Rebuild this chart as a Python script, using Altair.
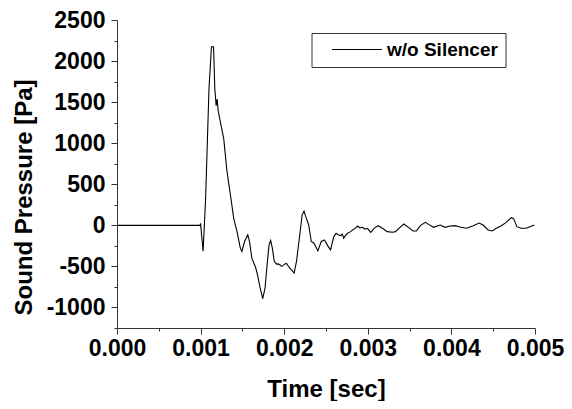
import altair as alt
import pandas as pd

# Time [sec]
time_s = [0.0, 0.00099, 0.001, 0.00103, 0.00106, 0.00110, 0.00113, 0.001155, 0.00117,
          0.001186, 0.001198, 0.00121, 0.001277, 0.001316, 0.001368, 0.001396, 0.001435,
          0.001475, 0.001494, 0.001526, 0.001565, 0.001585, 0.001613, 0.00166, 0.00168,
          0.001712, 0.001743, 0.001771, 0.001799, 0.001819, 0.001838, 0.001858, 0.001882,
          0.001909, 0.001929, 0.001949, 0.001968, 0.001988, 0.002008, 0.002028, 0.002048,
          0.002068, 0.002119, 0.002147, 0.002186, 0.002214, 0.002237, 0.002265, 0.002293,
          0.002324, 0.002356, 0.002403, 0.002443, 0.002482, 0.002522, 0.002554, 0.002593,
          0.002621, 0.002645, 0.00268, 0.002695, 0.002712, 0.002735, 0.002759, 0.00279,
          0.002818, 0.002845, 0.002877, 0.002905, 0.002937, 0.002965, 0.002996, 0.003035,
          0.003075, 0.003123, 0.003174, 0.003233, 0.003293, 0.003332, 0.003372, 0.003431,
          0.00349, 0.003541, 0.003581, 0.003628, 0.003688, 0.003727, 0.003787, 0.003865,
          0.003925, 0.003984, 0.004043, 0.004102, 0.004182, 0.004261, 0.004332, 0.004379,
          0.004439, 0.004487, 0.004538, 0.004597, 0.004656, 0.004715, 0.004743, 0.004783,
          0.004834, 0.004893, 0.004941, 0.004992]
# Sound Pressure [Pa]
pressure_pa = [0, 0, 15, -315, 327, 1658, 2174, 2174, 1658,
               1456, 1537, 1395, 1053, 653, 290, 85, -73,
               -278, -318, -197, -117, -197, -399, -520, -601,
               -762, -891, -762, -440, -238, -185, -278, -440,
               -472, -470, -480, -500, -488, -470, -464, -495,
               -520, -581, -440, -117, 125, 173, 85, 4,
               -197, -218, -311, -197, -178, -250, -298, -137,
               -97, -115, -125, -105, -157, -120, -97, -80,
               -56, -40, -8, -30, -24, -45, -36, -85,
               -36, -4, -36, -77, -85, -77, -36, 16,
               -28, -69, -69, -4, 36, 12, -24, 4,
               -24, -8, -4, -20, -36, -4, 28, 4,
               -56, -69, -36, -4, 36, 93, 85, -16,
               -36, -36, -16, 4]
series_name = ["w/o Silencer"] * len(time_s)

y_ticks = list(range(-1250, 2501, 250))
x_ticks = [round(i * 0.0005, 4) for i in range(11)]

df = pd.DataFrame({"t": time_s, "p": pressure_pa, "series": series_name})

FONT = "Liberation Sans"

x_major = "round(datum.value * 10000) % 10 === 0"
y_major = "datum.value % 500 === 0"

chart = alt.Chart(df).mark_line(color="black", strokeWidth=1.1).encode(
    x=alt.X("t:Q",
            scale=alt.Scale(domain=[0, 0.005], nice=False, zero=False),
            axis=alt.Axis(values=x_ticks, title="Time [sec]",
                          labelExpr=f"{x_major} ? format(datum.value, '.3f') : ''",
                          tickSize={"condition": {"test": x_major, "value": 6}, "value": 3},
                          grid=False, labelPadding=3,
                          labelFont=FONT, labelFontSize=23, labelFontWeight="bold", labelColor="black",
                          titleFont=FONT, titleFontSize=24, titleFontWeight="bold", titleColor="black",
                          titleBaseline="alphabetic", titleY=68,
                          domainColor="#333333", tickColor="#333333", labelFlush=False,
                          labelOverlap=False)),
    y=alt.Y("p:Q",
            scale=alt.Scale(domain=[-1250, 2500], nice=False, zero=False),
            axis=alt.Axis(values=y_ticks, title="Sound Pressure [Pa]",
                          labelExpr=f"{y_major} ? '' + datum.value : ''",
                          tickSize={"condition": {"test": y_major, "value": 6}, "value": 3},
                          grid=False, labelPadding=6,
                          labelFont=FONT, labelFontSize=23, labelFontWeight="bold", labelColor="black",
                          titleFont=FONT, titleFontSize=24, titleFontWeight="bold", titleColor="black",
                          titleBaseline="alphabetic", titleX=-86, titleY=177,
                          domainColor="#333333", tickColor="#333333", labelFlush=False,
                          labelOverlap=False)),
    color=alt.Color("series:N",
                    scale=alt.Scale(range=["black"]),
                    legend=alt.Legend(title=None, orient="none", legendX=194.5, legendY=13,
                                      strokeColor="#333333", padding=7,
                                      symbolType="stroke", symbolSize=2500, symbolStrokeWidth=1,
                                      symbolOffset=13, clipHeight=19, labelOffset=4.5,
                                      labelFont=FONT, labelFontSize=19, labelFontWeight="bold",
                                      labelColor="black")),
).properties(
    width=418, height=308,
    padding={"left": 109, "top": 12, "right": 29, "bottom": 73},
    autosize=alt.AutoSizeParams(type="none"),
).configure_view(stroke=None)

chart.save("out.html", embed_options={"renderer": "svg", "actions": False})
